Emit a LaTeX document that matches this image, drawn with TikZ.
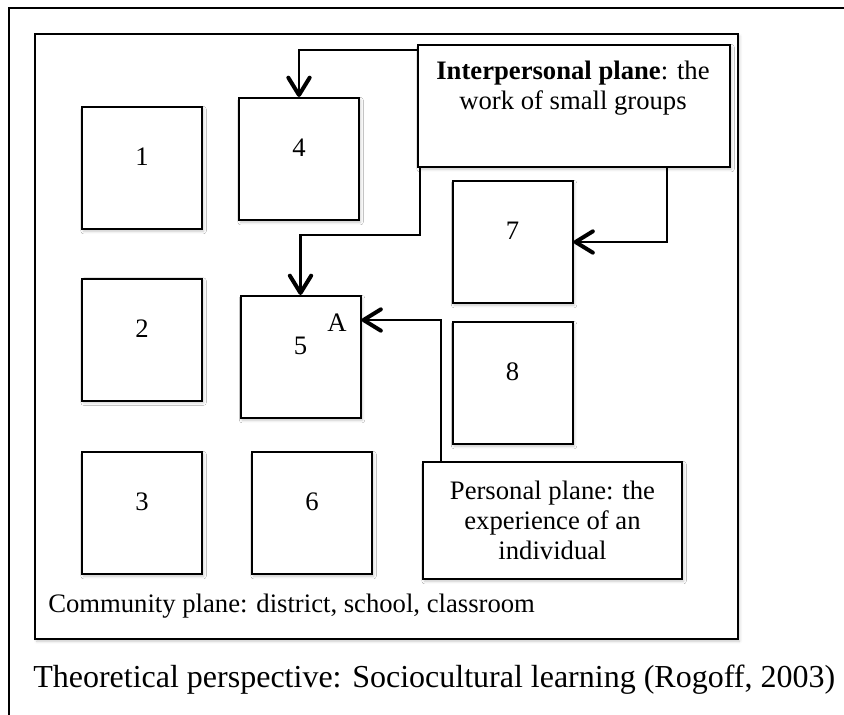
\documentclass[tikz,border=0pt]{standalone}
\usepackage{fontspec}
\setmainfont{Liberation Serif}
\usetikzlibrary{arrows.meta,calc,shadows.blur}
\newcommand\planetext{\fontsize{20}{22.5}\selectfont}
\newcommand\titletext{\fontsize{24}{28}\selectfont}
\begin{document}
\begin{tikzpicture}[x=0.75pt,y=-0.75pt,
  softshadow/.style={blur shadow={shadow xshift=1.2pt,shadow yshift=-1.6pt,
      shadow blur radius=2pt,shadow opacity=22}},
  frameline/.style={line width=1.5pt},
  numbox/.style={draw,line width=1.5pt,fill=white,softshadow,inner sep=0pt,
      minimum width=90pt,minimum height=91.5pt,
      label={[anchor=center,yshift=-38pt,font=\planetext]north:#1}},
  planebox/.style={draw,line width=1.5pt,fill=white,softshadow,inner sep=0pt,
      font=\planetext,align=center},
  conn/.style={line width=2pt,
      -{Straight Barb[length=13pt,width=16pt,line width=3pt,round]}},
]
\useasboundingbox (0,0) rectangle (844,715);

% outer frame: only its top and left sides fall inside the page
\coordinate (ofl) at (9,720);
\coordinate (oftl) at (9,8);
\coordinate (ofr) at (850,8);
\draw[frameline] (ofl) -- (oftl) -- (ofr);

% community plane frame
\node[draw,line width=1.5pt,fill=white,softshadow,inner sep=0pt,
      minimum width=527.25pt,minimum height=453.75pt] (comm) at (386.5,336.5) {};

% numbered boxes
\node[numbox=1] (b1) at (142,168) {};
\node[numbox=4] (b4) at (299,159) {};
\node[numbox=2] (b2) at (142,339.5) {};
\node[numbox=5] (b5) at (300.5,357) {};
\node[numbox=3] (b3) at (142,513) {};
\node[numbox=6] (b6) at (312,513) {};
\node[numbox=7] (b7) at (512.5,242) {};
\node[numbox=8] (b8) at (512.5,383) {};
\node[font=\planetext,inner sep=0pt] (lblA) at (337,323) {A};

% interpersonal plane box
\node[planebox,minimum width=234pt,minimum height=91.5pt] (ip) at (574,106) {};
\node[font=\planetext,align=center,inner sep=0pt] (iptext) at (573,88)
  {\textbf{Interpersonal plane}: the\\ work of small groups};

% personal plane box
\node[planebox,minimum width=194.25pt,minimum height=87.75pt] (pp) at (552.5,520.5)
  {Personal plane: the\\ experience of an\\ individual};

% captions
\node[font=\planetext,anchor=base west,inner sep=0pt] (commtext) at (48,612)
  {Community plane: district, school, classroom};
\node[font=\titletext,anchor=base west,inner sep=0pt] (theo) at (33,687)
  {Theoretical perspective: Sociocultural learning (Rogoff, 2003)};

% connectors
\draw[conn] ($(ip.north west)+(0,6)$) -| (b4.north);
\draw[conn] ($(ip.south west)+(3,0)$) |- ($(b5.north)+(0,-60)$) -- (b5.north);
\draw[conn] ($(ip.south west)+(250,0)$) |- (b7.east);
\draw[conn] ($(pp.north west)+(19,0)$) |- ($(b5.north east)+(0,25)$);
\end{tikzpicture}
\end{document}
